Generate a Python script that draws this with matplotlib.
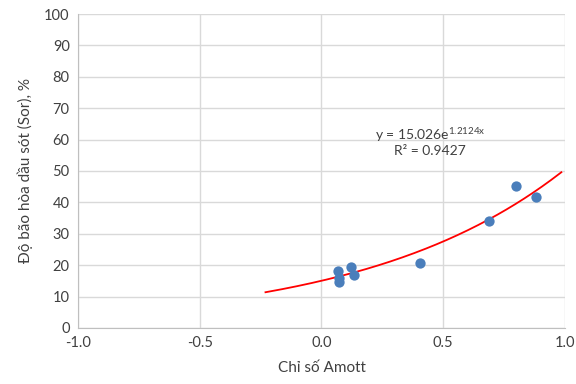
import numpy as np
import matplotlib.pyplot as plt

plt.rcParams['font.family'] = ['Lato', 'DejaVu Sans']

# Amott index vs residual oil saturation
amott = [0.069, 0.070, 0.071, 0.121, 0.132, 0.406, 0.689, 0.799, 0.880]
sor = [18.2, 15.8, 14.6, 19.3, 16.9, 20.6, 34.2, 45.2, 41.7]

# exponential trend: y = a * exp(b * x)
fit_a = 15.026
fit_b = 1.2124
fit_r2 = 0.9427
trend_from, trend_to = -0.23, 0.985

fig = plt.figure(figsize=(5.76, 3.84), dpi=100)
ax = fig.add_axes([0.1354, 0.146, 0.8455, 0.8175])

xs = np.linspace(trend_from, trend_to, 200)
ax.plot(xs, fit_a * np.exp(fit_b * xs), color='#ff0000', lw=1.3, zorder=3)
ax.scatter(amott, sor, s=55, color='#4a7ebb', zorder=4, linewidths=0)

ax.set_xlim(-1, 1)
ax.set_ylim(0, 100)
ax.set_xticks(np.arange(-1, 1.01, 0.5))
ax.set_xticklabels([f'{v:.1f}' for v in np.arange(-1, 1.01, 0.5)])
ax.set_yticks(range(0, 101, 10))
ax.grid(True, color='#d9d9d9', lw=1)
ax.set_axisbelow(True)
for side in ('top', 'right'):
    ax.spines[side].set_visible(False)
for side in ('left', 'bottom'):
    ax.spines[side].set_color('#bfbfbf')
ax.tick_params(length=0, labelsize=10.5, colors='#404040', pad=6)

ax.set_xlabel('Chỉ số Amott', fontsize=11, color='#404040', labelpad=8)
ax.set_ylabel('Độ bão hòa dầu sót (Sor), %', fontsize=11, color='#404040', labelpad=8)

ax.text(0.445, 61.5, rf'y = {fit_a:.3f}e$^{{\mathregular{{{fit_b:.4f}x}}}}$',
        ha='center', va='center', fontsize=10, color='#404040')
ax.text(0.445, 56.3, f'R² = {fit_r2:.4f}', ha='center', va='center',
        fontsize=10, color='#404040')

fig.savefig('out.png', dpi=100)
